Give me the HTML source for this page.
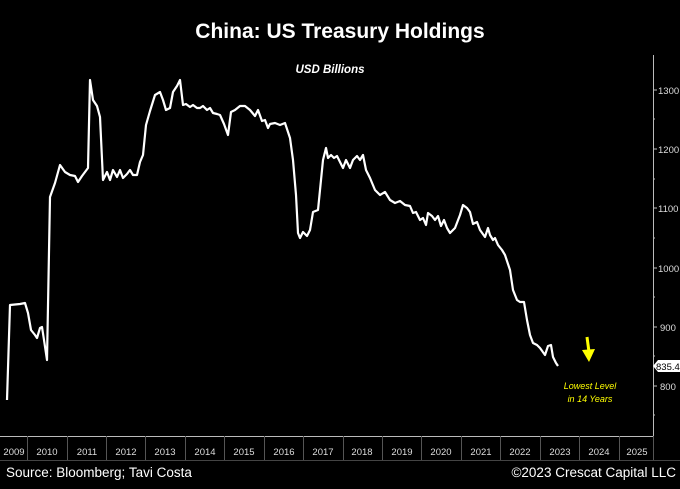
<!DOCTYPE html>
<html><head><style>body{margin:0;background:#000;width:680px;height:484px;overflow:hidden}</style></head>
<body>
<svg width="680" height="484" xmlns="http://www.w3.org/2000/svg" font-family="Liberation Sans, sans-serif">
<rect width="680" height="484" fill="#000"/>
<text x="340" y="38" fill="#fff" font-size="21" font-weight="bold" text-anchor="middle">China: US Treasury Holdings</text>
<text x="330" y="73" fill="#fff" font-size="11.5" font-style="italic" font-weight="bold" text-anchor="middle">USD Billions</text>
<g stroke="#bbb" stroke-width="1">
<line x1="653.5" y1="55" x2="653.5" y2="436"/>
<line x1="0" y1="436.5" x2="653" y2="436.5"/>
<line x1="0" y1="460.5" x2="680" y2="460.5" stroke="#444"/>
<line x1="653" y1="90" x2="657" y2="90"/><line x1="653" y1="149" x2="657" y2="149"/><line x1="653" y1="208" x2="657" y2="208"/><line x1="653" y1="268" x2="657" y2="268"/><line x1="653" y1="327" x2="657" y2="327"/><line x1="653" y1="386" x2="657" y2="386"/>
<line x1="653" y1="119" x2="655" y2="119"/><line x1="653" y1="179" x2="655" y2="179"/><line x1="653" y1="238" x2="655" y2="238"/><line x1="653" y1="297" x2="655" y2="297"/><line x1="653" y1="356" x2="655" y2="356"/><line x1="653" y1="415" x2="655" y2="415"/>
</g>
<g stroke="#555" stroke-width="1">
<line x1="27.5" y1="436" x2="27.5" y2="460"/><line x1="67.5" y1="436" x2="67.5" y2="460"/><line x1="106.5" y1="436" x2="106.5" y2="460"/><line x1="145.5" y1="436" x2="145.5" y2="460"/><line x1="185.5" y1="436" x2="185.5" y2="460"/><line x1="224.5" y1="436" x2="224.5" y2="460"/><line x1="264.5" y1="436" x2="264.5" y2="460"/><line x1="303.5" y1="436" x2="303.5" y2="460"/><line x1="343.5" y1="436" x2="343.5" y2="460"/><line x1="382.5" y1="436" x2="382.5" y2="460"/><line x1="421.5" y1="436" x2="421.5" y2="460"/><line x1="461.5" y1="436" x2="461.5" y2="460"/><line x1="500.5" y1="436" x2="500.5" y2="460"/><line x1="540.5" y1="436" x2="540.5" y2="460"/><line x1="579.5" y1="436" x2="579.5" y2="460"/><line x1="619.5" y1="436" x2="619.5" y2="460"/><line x1="653.5" y1="436" x2="653.5" y2="460"/>
</g>
<g fill="#ddd" font-size="9.5" text-anchor="middle">
<text x="14" y="455">2009</text><text x="47" y="455">2010</text><text x="87" y="455">2011</text><text x="126" y="455">2012</text><text x="165" y="455">2013</text><text x="205" y="455">2014</text><text x="244" y="455">2015</text><text x="284" y="455">2016</text><text x="323" y="455">2017</text><text x="362" y="455">2018</text><text x="402" y="455">2019</text><text x="441" y="455">2020</text><text x="481" y="455">2021</text><text x="520" y="455">2022</text><text x="560" y="455">2023</text><text x="599" y="455">2024</text><text x="637" y="455">2025</text>
</g>
<g fill="#ddd" font-size="9.5">
<text x="658" y="94">1300</text><text x="658" y="153">1200</text><text x="658" y="212">1100</text><text x="658" y="272">1000</text><text x="660" y="331">900</text><text x="660" y="390">800</text>
</g>
<path d="M653,366 L658,360 H680 V372 H658 Z" fill="#fff"/>
<text x="656" y="370" fill="#000" font-size="9.5">835.4</text>
<polyline fill="none" stroke="#fff" stroke-width="2.2" stroke-linejoin="round" points="7,400 10,305 20,304 25,303 28,313 31,330 35,335 37,338 40,328 42,327 44,340 47,360 50,197 55,183 60,165 65,172 70,175 75,176 78,182 82,176 85,172 88,168 90,80 93,100 97,106 100,117 103,180 107,172 110,180 113,170 117,177 120,170 123,178 127,174 130,170 133,175 137,175 140,162 143,155 146,125 150,111 155,95 160,92 163,100 166,110 170,108 173,92 177,86 180,80 183,105 186,104 190,107 193,105 197,108 200,108 203,106 207,110 210,108 213,113 217,114 220,115 224,124 228,135 231,112 235,110 240,106 245,106 250,110 255,116 258,110 262,121 265,120 268,128 270,124 275,123 280,125 285,123 290,138 293,160 296,195 298,233 300,238 303,232 307,236 310,230 313,212 318,210 320,190 323,160 326,148 328,158 331,155 334,158 337,156 340,162 343,168 346,160 350,168 353,160 357,156 360,160 363,155 366,170 370,178 375,190 380,195 385,192 390,200 395,203 400,201 405,205 410,206 413,213 416,212 420,220 423,218 426,225 428,213 432,216 435,220 438,216 441,226 444,220 447,228 450,233 455,228 460,215 463,205 467,208 470,212 473,224 477,222 480,230 485,237 488,228 490,235 493,240 495,238 498,245 502,250 505,255 510,270 513,290 517,300 520,302 524,302 527,320 530,335 533,343 537,345 540,348 545,355 548,346 551,345 553,357 556,363 558,366"/>
<line x1="587" y1="337" x2="589" y2="352" stroke="#ffff00" stroke-width="3"/>
<polygon points="582,350 595,349 589,362" fill="#ffff00"/>
<g fill="#ffff00" font-size="9" font-style="italic" text-anchor="middle">
<text x="590" y="389">Lowest Level</text><text x="590" y="402">in 14 Years</text>
</g>
<text x="6" y="477" fill="#fff" font-size="13.5">Source: Bloomberg; Tavi Costa</text>
<text x="676" y="477" fill="#fff" font-size="13.5" text-anchor="end">©2023 Crescat Capital LLC</text>
</svg>
</body></html>
